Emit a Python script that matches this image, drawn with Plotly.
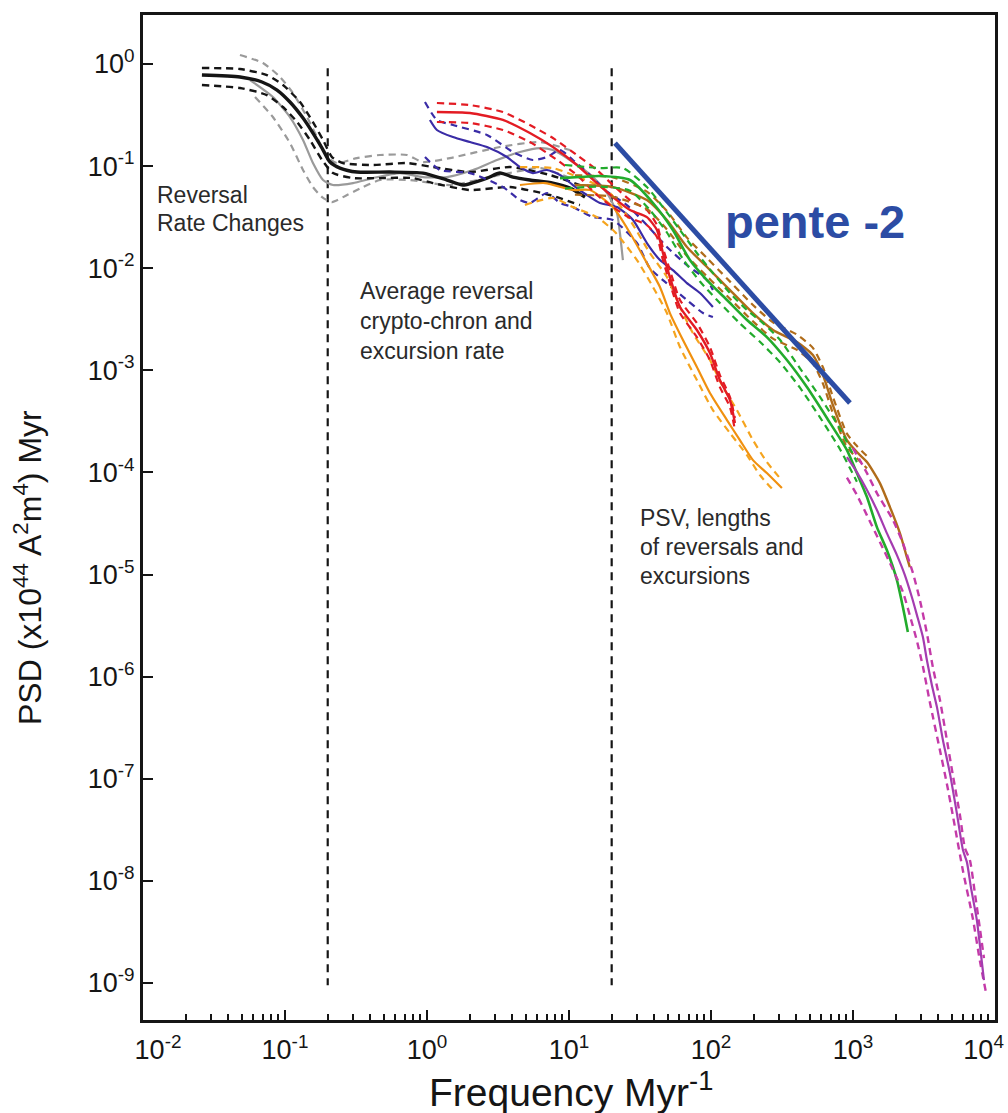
import plotly.graph_objects as go

# ---------------- data (log10 frequency [Myr^-1], log10 PSD) ----------------
# Reversal-rate spectra (black = main estimate, grey = alternative estimate)
blk_f = [-1.585, -1.317, -1.162, -1.056, -0.965, -0.873, -0.803, -0.739, -0.683, -0.613, -0.493,
         -0.261, -0.028, 0.141, 0.254, 0.423, 0.514, 0.606, 0.725, 0.887, 1.007, 1.113]
blk_p = [-0.108, -0.127, -0.176, -0.255, -0.372, -0.529, -0.676, -0.823, -0.960, -1.019, -1.058,
         -1.058, -1.068, -1.136, -1.185, -1.117, -1.068, -1.107, -1.136, -1.166, -1.214, -1.303]
blk_hi_f = [-1.585, -1.317, -1.127, -1.014, -0.894, -0.803, -0.732, -0.669, -0.592, -0.380, -0.141,
            0.042, 0.303, 0.585, 0.866, 1.077]
blk_hi_p = [-0.039, -0.049, -0.108, -0.206, -0.372, -0.568, -0.744, -0.911, -0.970, -0.989, -0.970,
            -1.009, -1.058, -1.009, -1.087, -1.185]
blk_lo_f = [-1.585, -1.317, -1.127, -1.014, -0.915, -0.824, -0.739, -0.662, -0.521, -0.331, -0.099,
            0.042, 0.303, 0.585, 0.866, 1.077]
blk_lo_p = [-0.206, -0.235, -0.304, -0.421, -0.568, -0.744, -0.940, -1.068, -1.117, -1.117, -1.117,
            -1.166, -1.234, -1.205, -1.283, -1.381]

gry_f = [-1.246, -1.085, -0.965, -0.873, -0.803, -0.732, -0.662, -0.521, -0.380, -0.190, -0.028,
         0.141, 0.324, 0.493, 0.655, 0.796, 0.887, 1.007, 1.169, 1.268, 1.338, 1.359, 1.380]
gry_p = [-0.157, -0.323, -0.519, -0.744, -0.970, -1.136, -1.185, -1.166, -1.117, -1.068, -1.107,
         -1.107, -1.038, -0.940, -0.862, -0.823, -0.842, -0.940, -1.107, -1.263, -1.459, -1.655, -1.920]
gry_hi_f = [-1.317, -1.155, -1.035, -0.944, -0.845, -0.775, -0.704, -0.634, -0.493, -0.331, -0.141,
            -0.028, 0.162, 0.514, 0.796, 1.007]
gry_hi_p = [0.088, 0.010, -0.127, -0.284, -0.519, -0.715, -0.911, -0.970, -0.921, -0.891, -0.891,
            -0.960, -0.921, -0.813, -0.764, -0.842]
gry_lo_f = [-1.211, -1.085, -0.965, -0.873, -0.803, -0.739, -0.669, -0.563, -0.451, -0.331, -0.120,
            0.162, 0.514, 0.796, 1.007]
gry_lo_p = [-0.323, -0.519, -0.774, -1.038, -1.205, -1.303, -1.352, -1.283, -1.205, -1.136, -1.136,
            -1.185, -1.087, -1.019, -1.117]

# Red spectrum
red_f = [0.070, 0.303, 0.535, 0.725, 0.887, 1.056, 1.197, 1.310, 1.430, 1.549, 1.620, 1.662, 1.711,
         1.782, 1.901, 1.993, 2.063, 2.134, 2.169]
red_p = [-0.470, -0.480, -0.548, -0.676, -0.813, -0.989, -1.166, -1.303, -1.430, -1.499, -1.626,
         -1.851, -2.086, -2.380, -2.605, -2.831, -3.095, -3.291, -3.516]
red_hi_p = [-0.382, -0.402, -0.470, -0.597, -0.725, -0.891, -1.038, -1.185, -1.332, -1.430, -1.577,
            -1.802, -2.018, -2.311, -2.537, -2.772, -3.046, -3.261, -3.467]
red_lo_p = [-0.568, -0.578, -0.646, -0.764, -0.911, -1.087, -1.283, -1.401, -1.508, -1.577, -1.694,
            -1.920, -2.145, -2.439, -2.674, -2.899, -3.164, -3.359, -3.585]

# Blue spectrum
blu_f = [0.021, 0.070, 0.183, 0.303, 0.423, 0.563, 0.655, 0.746, 0.845, 0.937, 1.028, 1.127, 1.218,
         1.338, 1.451, 1.549, 1.641, 1.732, 1.831, 1.923, 2.014]
blu_p = [-0.548, -0.646, -0.715, -0.764, -0.813, -0.911, -1.009, -1.068, -1.038, -1.087, -1.185,
         -1.283, -1.361, -1.401, -1.528, -1.753, -1.920, -2.018, -2.145, -2.243, -2.380]
blu_hi_f = [-0.014, 0.070, 0.183, 0.423, 0.606, 0.746, 0.845, 0.937, 1.028, 1.148, 1.254, 1.408,
            1.549, 1.690, 1.831, 1.972, 2.014]
blu_hi_p = [-0.372, -0.548, -0.597, -0.695, -0.862, -0.940, -0.911, -0.842, -0.940, -1.087, -1.234,
            -1.381, -1.577, -1.792, -1.969, -2.116, -2.214]
blu_lo_f = [-0.014, 0.092, 0.303, 0.535, 0.655, 0.725, 0.845, 0.937, 1.028, 1.169, 1.310, 1.479,
            1.570, 1.662, 1.831, 1.944, 2.014]
blu_lo_p = [-0.911, -1.038, -1.068, -1.205, -1.332, -1.361, -1.263, -1.361, -1.401, -1.499, -1.528,
            -1.753, -2.000, -2.116, -2.311, -2.439, -2.478]

# Orange spectrum
org_f = [0.655, 0.831, 1.028, 1.148, 1.310, 1.430, 1.549, 1.641, 1.711, 1.803, 1.901, 1.993, 2.113,
         2.204, 2.296, 2.394, 2.500]
org_p = [-1.185, -1.166, -1.234, -1.234, -1.401, -1.655, -1.949, -2.184, -2.439, -2.703, -2.968,
         -3.222, -3.487, -3.683, -3.879, -4.006, -4.153]
org_hi_f = [0.655, 0.887, 1.028, 1.169, 1.289, 1.430, 1.570, 1.690, 1.782, 1.873, 1.993, 2.085,
            2.183, 2.296, 2.394, 2.486]
org_hi_p = [-1.009, -1.019, -1.087, -1.166, -1.263, -1.528, -1.851, -2.086, -2.380, -2.635, -2.899,
            -3.164, -3.389, -3.683, -3.898, -4.055]
org_lo_f = [0.690, 0.887, 1.028, 1.197, 1.324, 1.479, 1.592, 1.690, 1.782, 1.901, 2.014, 2.134,
            2.254, 2.345, 2.451]
org_lo_p = [-1.381, -1.312, -1.401, -1.499, -1.645, -1.920, -2.184, -2.439, -2.772, -3.095, -3.389,
            -3.614, -3.830, -4.025, -4.192]

# Green spectrum
grn_f = [0.937, 1.077, 1.218, 1.430, 1.592, 1.732, 1.852, 1.972, 2.113, 2.254, 2.394, 2.535, 2.676,
         2.817, 2.958, 3.028, 3.099, 3.169, 3.239, 3.310, 3.352, 3.387]
grn_p = [-1.117, -1.107, -1.097, -1.136, -1.361, -1.626, -1.920, -2.116, -2.311, -2.507, -2.674,
         -2.899, -3.164, -3.467, -3.781, -4.006, -4.241, -4.535, -4.760, -5.054, -5.318, -5.563]
grn_hi_f = [0.972, 1.218, 1.380, 1.549, 1.662, 1.782, 1.901, 2.014, 2.134, 2.254, 2.366, 2.486,
            2.627, 2.768, 2.908, 3.028]
grn_hi_p = [-0.989, -1.019, -1.019, -1.205, -1.401, -1.626, -1.851, -2.047, -2.243, -2.409, -2.537,
            -2.700, -2.980, -3.260, -3.570, -3.900]
grn_lo_f = [0.972, 1.218, 1.430, 1.570, 1.690, 1.803, 1.923, 2.063, 2.204, 2.345, 2.486, 2.627,
            2.768, 2.908, 3.028]
grn_lo_p = [-1.220, -1.200, -1.240, -1.430, -1.650, -1.910, -2.130, -2.340, -2.540, -2.720, -2.920,
            -3.170, -3.460, -3.770, -4.090]

# Brown spectrum
brn_f = [1.042, 1.310, 1.549, 1.690, 1.831, 1.972, 2.113, 2.296, 2.437, 2.606, 2.718, 2.789, 2.859,
         2.958, 3.028, 3.099, 3.190, 3.261, 3.331, 3.380, 3.401]
brn_p = [-1.185, -1.205, -1.332, -1.528, -1.792, -1.988, -2.184, -2.439, -2.605, -2.723, -2.850,
         -3.046, -3.340, -3.683, -3.800, -3.898, -4.104, -4.339, -4.594, -4.829, -4.927]
brn_b_f = [1.042, 1.310, 1.549, 1.690, 1.831, 1.972, 2.113, 2.296, 2.437, 2.606, 2.718, 2.789,
           2.859, 2.958, 3.028, 3.099]
brn_hi_p = [-1.09, -1.11, -1.25, -1.44, -1.70, -1.90, -2.10, -2.36, -2.53, -2.65, -2.78, -2.97,
            -3.26, -3.62, -3.74, -3.84]
brn_lo_p = [-1.28, -1.30, -1.42, -1.62, -1.88, -2.08, -2.27, -2.52, -2.69, -2.80, -2.93, -3.13,
            -3.42, -3.75, -3.86, -3.96]

# Magenta spectrum
mag_f = [2.958, 3.028, 3.099, 3.169, 3.239, 3.310, 3.366, 3.415, 3.451, 3.493, 3.521, 3.556, 3.592,
         3.634, 3.683, 3.732, 3.775, 3.803, 3.831, 3.873, 3.901, 3.923]
mag_p = [-3.849, -3.996, -4.172, -4.368, -4.594, -4.809, -5.005, -5.220, -5.397, -5.612, -5.837,
         -6.082, -6.298, -6.621, -6.944, -7.336, -7.698, -7.816, -8.061, -8.384, -8.707, -8.972]
mag_hi_f = [3.000, 3.099, 3.169, 3.282, 3.352, 3.423, 3.472, 3.521, 3.563, 3.613, 3.662, 3.704,
            3.754, 3.789, 3.824, 3.859, 3.894, 3.923]
mag_hi_p = [-3.761, -4.006, -4.202, -4.466, -4.691, -4.985, -5.250, -5.573, -5.906, -6.229, -6.621,
            -6.964, -7.356, -7.679, -7.796, -8.120, -8.462, -8.756]
mag_lo_f = [2.958, 3.028, 3.099, 3.190, 3.282, 3.352, 3.401, 3.451, 3.493, 3.542, 3.613, 3.662,
            3.704, 3.775, 3.845, 3.894, 3.937]
mag_lo_p = [-4.05, -4.22, -4.42, -4.68, -4.95, -5.17, -5.40, -5.65, -5.90, -6.25, -6.72, -7.05,
            -7.36, -7.90, -8.37, -8.78, -9.09]

# Reference slope line ("pente -2") and band boundaries (real units)
pente_f = [21.1, 953.0]
pente_psd = [0.168, 4.79e-4]
band_f = [0.2, 20.0]
band_psd = [0.91, 9.5e-10]

# Axis ticks (end labels padded so they stay inside the page, as in the original)
x_tickvals = [1e-2, 1e-1, 1e0, 1e1, 1e2, 1e3, 1e4]
x_ticktext = ["&nbsp;&nbsp;&nbsp;&nbsp;10<sup>-2</sup>", "10<sup>-1</sup>", "10<sup>0</sup>",
              "10<sup>1</sup>", "10<sup>2</sup>", "10<sup>3</sup>",
              "10<sup>4</sup>&nbsp;&nbsp;&nbsp;"]
y_tickvals = [1e0, 1e-1, 1e-2, 1e-3, 1e-4, 1e-5, 1e-6, 1e-7, 1e-8, 1e-9]
y_ticktext = ["10<sup>0</sup>", "10<sup>-1</sup>", "10<sup>-2</sup>", "10<sup>-3</sup>",
              "10<sup>-4</sup>", "10<sup>-5</sup>", "10<sup>-6</sup>", "10<sup>-7</sup>",
              "10<sup>-8</sup>", "10<sup>-9</sup>"]

# ---------------- styling ----------------
FONT = "Liberation Sans, Arial, Helvetica, sans-serif"
BLACK = "#151515"
GREY = "#9a9a9a"
RED = "#e31b23"
BLUE = "#3a2ca6"
ORANGE = "#f5a41e"
ORANGE_S = "#f0900f"
GREEN = "#22ab2c"
BROWN = "#b06c1a"
MAGENTA = "#c43aa8"
MAGENTA_S = "#a43cb0"
PENTE = "#2c4ca4"
DASH = "7px,5px"

fig = go.Figure()


def lin(v):
    return [10 ** a for a in v]


def add(fx, py, color, width, dash=None):
    fig.add_trace(go.Scatter(
        x=lin(fx), y=lin(py), mode="lines",
        line=dict(color=color, width=width, dash=dash, shape="spline", smoothing=0.6),
        hoverinfo="skip"))


# vertical band boundaries
for bf in band_f:
    fig.add_trace(go.Scatter(x=[bf, bf], y=band_psd, mode="lines",
                             line=dict(color=BLACK, width=2.2, dash="8px,6px"), hoverinfo="skip"))

# grey and black
add(gry_hi_f, gry_hi_p, GREY, 2.2, DASH)
add(gry_lo_f, gry_lo_p, GREY, 2.2, DASH)
add(gry_f, gry_p, GREY, 2.2)
add(blk_hi_f, blk_hi_p, BLACK, 2.4, DASH)
add(blk_lo_f, blk_lo_p, BLACK, 2.4, DASH)
add(blk_f, blk_p, BLACK, 3.4)

# blue
add(blu_hi_f, blu_hi_p, BLUE, 2.2, DASH)
add(blu_lo_f, blu_lo_p, BLUE, 2.2, DASH)
add(blu_f, blu_p, BLUE, 2.2)

# orange
add(org_hi_f, org_hi_p, ORANGE, 2.2, DASH)
add(org_lo_f, org_lo_p, ORANGE, 2.2, DASH)
add(org_f, org_p, ORANGE_S, 2.2)

# red
add(red_f, red_hi_p, RED, 2.2, DASH)
add(red_f, red_lo_p, RED, 2.2, DASH)
add(red_f, red_p, RED, 2.4)

# brown
add(brn_b_f, brn_hi_p, BROWN, 2.2, DASH)
add(brn_b_f, brn_lo_p, BROWN, 2.2, DASH)
add(brn_f, brn_p, BROWN, 2.4)

# green
add(grn_hi_f, grn_hi_p, GREEN, 2.2, DASH)
add(grn_lo_f, grn_lo_p, GREEN, 2.2, DASH)
add(grn_f, grn_p, GREEN, 2.6)

# magenta
add(mag_hi_f, mag_hi_p, MAGENTA, 2.4, DASH)
add(mag_lo_f, mag_lo_p, MAGENTA, 2.4, DASH)
add(mag_f, mag_p, MAGENTA_S, 2.2)

# slope line
fig.add_trace(go.Scatter(x=pente_f, y=pente_psd, mode="lines",
                         line=dict(color=PENTE, width=5), hoverinfo="skip"))

# ---------------- layout ----------------
L, R, T, B = 143, 995, 15, 1020
W, H = 1008, 1113


def px(xp, yp):
    return (xp - L) / (R - L), (B - yp) / (B - T)


minor_x = [m * 10 ** e for e in range(-2, 4) for m in range(2, 10)]

axis_common = dict(type="log", showgrid=False, zeroline=False, showline=True, linewidth=3,
                   linecolor=BLACK, mirror=True, ticks="inside", ticklen=10, tickwidth=2,
                   tickcolor=BLACK, ticklabeloverflow="allow", automargin=False,
                   tickfont=dict(family=FONT, size=27, color=BLACK))

fig.update_layout(
    width=W, height=H,
    margin=dict(l=L, r=W - R, t=T, b=H - B, autoexpand=False),
    paper_bgcolor="white", plot_bgcolor="white",
    showlegend=False,
    font=dict(family=FONT, color=BLACK),
    xaxis=dict(range=[-2, 4.0008], tickmode="array", tickvals=x_tickvals, ticktext=x_ticktext,
               ticklabelstandoff=4,
               minor=dict(tickmode="array", tickvals=minor_x, ticks="inside", ticklen=6,
                          tickwidth=1.6, tickcolor=BLACK),
               **axis_common),
    yaxis=dict(range=[-9.362, 0.48], tickmode="array", tickvals=y_tickvals, ticktext=y_ticktext,
               **axis_common),
)

annots = []


def text(xp, yp, s, size=23, color="#2a2a2a", anchor="left", angle=0):
    ax, ay = px(xp, yp)
    annots.append(dict(x=ax, y=ay, xref="paper", yref="paper", text=s, showarrow=False,
                       xanchor=anchor, yanchor="middle", textangle=angle,
                       font=dict(family=FONT, size=size, color=color)))


text(155, 195, "Reversal")
text(155, 223, "Rate Changes")
text(358, 291, "Average reversal")
text(358, 321, "crypto-chron and")
text(358, 351, "excursion rate")
text(638, 518, "PSV, lengths")
text(638, 547, "of reversals and")
text(638, 576, "excursions")
text(723, 221, "<b>pente -2</b>", size=47, color=PENTE)
text(571, 1089, "Frequency Myr<sup>-1</sup>", size=39, color=BLACK, anchor="center")
text(28, 568, "PSD (x10<sup>44</sup> A<sup>2</sup>m<sup>4</sup>) Myr", size=32, color=BLACK,
     anchor="center", angle=-90)

fig.update_layout(annotations=annots)

fig.write_html("out.html")
